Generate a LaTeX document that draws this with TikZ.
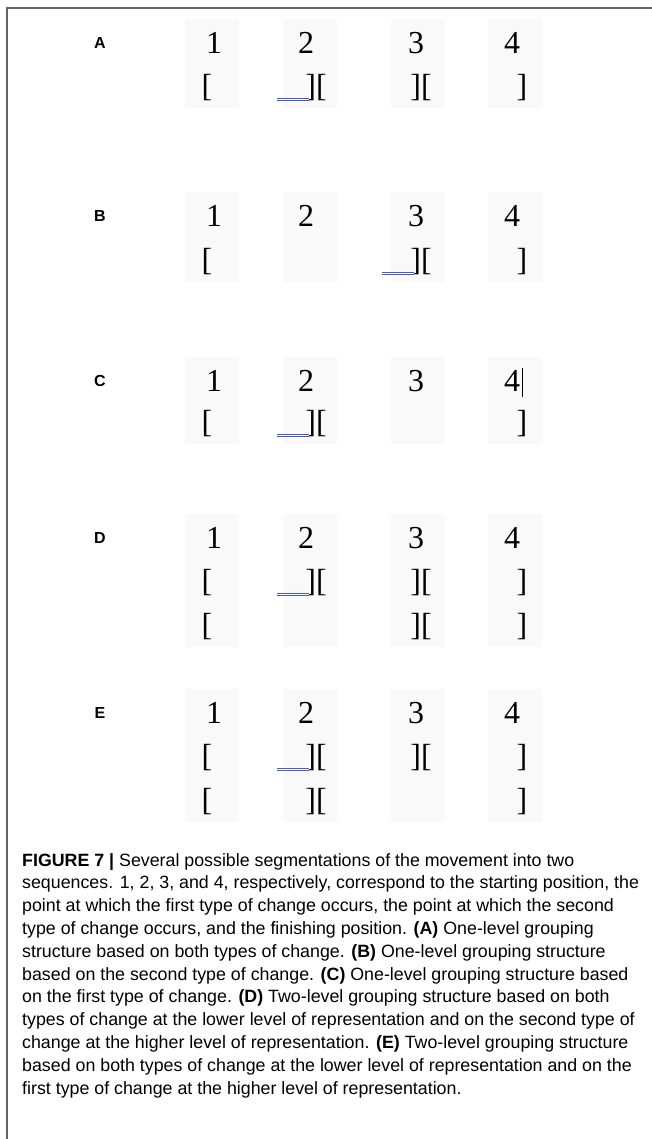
\documentclass[tikz,border=0pt]{standalone}
\usepackage{fontspec}
\setmainfont{Liberation Sans}
\newfontfamily\numfont{Liberation Serif}
\usetikzlibrary{positioning,calc}
\definecolor{ulblue}{RGB}{70,90,200}
\definecolor{framegray}{RGB}{100,100,100}
\definecolor{patchgray}{RGB}{249,249,249}
\tikzset{
  lbl/.style={font=\fontsize{16}{16}\selectfont\bfseries, inner sep=0pt},
  num/.style={font=\numfont\fontsize{32}{32}\selectfont, inner sep=0pt},
  brk/.style={font=\numfont\fontsize{32}{32}\selectfont, inner sep=0pt},
  ul/.style={draw=ulblue, double, double distance=1.1pt, line width=0.8pt},
  patch/.style={fill=patchgray, draw=none}
}
\begin{document}
\begin{tikzpicture}[x=1pt,y=-1pt]
    \useasboundingbox (0,0) rectangle (652,1139);
    % light screenshot patches behind the columns
    \foreach \top/\bot in {43/88, 216/262, 381/424, 538/627, 713/802}
        \foreach \x in {212,310,418,515}
            \fill[patch] (\x-27,\top-24) rectangle (\x+27,\bot+20);
    % frame
    \draw[framegray, line width=1.4pt] (7,1139) -- (7,8) -- (652,8);
    % A
    \node[lbl] (labA) at (100,43) {A};
    \foreach \d/\x in {1/214,2/306,3/416,4/512}
        \node[num] (A\d) at (\x,43) {\d};
    \node[brk] (Ab1) at (207,88) {[};
    \node[brk] (Ab2) at (316,88) {][};
    \node[brk] (Ab3) at (421,88) {][};
    \node[brk] (Ab4) at (522,88) {]};
    \draw[ul] ([xshift=-28pt,yshift=2pt]Ab2.south west) -- ([xshift=4pt,yshift=2pt]Ab2.south west);
    % B
    \node[lbl] (labB) at (100,216) {B};
    \foreach \d/\x in {1/214,2/306,3/416,4/512}
        \node[num] (B\d) at (\x,216) {\d};
    \node[brk] (Bb1) at (207,262) {[};
    \node[brk] (Bb3) at (421,262) {][};
    \node[brk] (Bb4) at (522,262) {]};
    \draw[ul] ([xshift=-28pt,yshift=2pt]Bb3.south west) -- ([xshift=4pt,yshift=2pt]Bb3.south west);
    % C
    \node[lbl] (labC) at (100,381) {C};
    \foreach \d/\x in {1/214,2/306,3/416,4/512}
        \node[num] (C\d) at (\x,381) {\d};
    \draw[line width=0.8pt] ([xshift=2pt,yshift=2pt]C4.north east) -- ([xshift=2pt,yshift=-5pt]C4.south east);
    \node[brk] (Cb1) at (207,424) {[};
    \node[brk] (Cb2) at (316,424) {][};
    \node[brk] (Cb4) at (522,424) {]};
    \draw[ul] ([xshift=-28pt,yshift=2pt]Cb2.south west) -- ([xshift=4pt,yshift=2pt]Cb2.south west);
    % D
    \node[lbl] (labD) at (100,538) {D};
    \foreach \d/\x in {1/214,2/306,3/416,4/512}
        \node[num] (D\d) at (\x,538) {\d};
    \node[brk] (Db1) at (207,583) {[};
    \node[brk] (Db2) at (316,583) {][};
    \node[brk] (Db3) at (421,583) {][};
    \node[brk] (Db4) at (522,583) {]};
    \draw[ul] ([xshift=-28pt,yshift=2pt]Db2.south west) -- ([xshift=4pt,yshift=2pt]Db2.south west);
    \node[brk] (Dc1) at (207,627) {[};
    \node[brk] (Dc3) at (421,627) {][};
    \node[brk] (Dc4) at (522,627) {]};
    % E
    \node[lbl] (labE) at (100,713) {E};
    \foreach \d/\x in {1/214,2/306,3/416,4/512}
        \node[num] (E\d) at (\x,713) {\d};
    \node[brk] (Eb1) at (207,758) {[};
    \node[brk] (Eb2) at (316,758) {][};
    \node[brk] (Eb3) at (421,758) {][};
    \node[brk] (Eb4) at (522,758) {]};
    \draw[ul] ([xshift=-28pt,yshift=2pt]Eb2.south west) -- ([xshift=4pt,yshift=2pt]Eb2.south west);
    \node[brk] (Ec1) at (207,802) {[};
    \node[brk] (Ec2) at (316,802) {][};
    \node[brk] (Ec4) at (522,802) {]};
    % caption
    \node[anchor=north west, align=left, inner sep=0pt, font=\fontsize{17.8}{22.8}\selectfont] (cap) at (22,853) {%
        \textbf{FIGURE 7 |} Several possible segmentations of the movement into two\\
        sequences. 1, 2, 3, and 4, respectively, correspond to the starting position, the\\
        point at which the first type of change occurs, the point at which the second\\
        type of change occurs, and the finishing position. \textbf{(A)} One-level grouping\\
        structure based on both types of change. \textbf{(B)} One-level grouping structure\\
        based on the second type of change. \textbf{(C)} One-level grouping structure based\\
        on the first type of change. \textbf{(D)} Two-level grouping structure based on both\\
        types of change at the lower level of representation and on the second type of\\
        change at the higher level of representation. \textbf{(E)} Two-level grouping structure\\
        based on both types of change at the lower level of representation and on the\\
        first type of change at the higher level of representation.};
\end{tikzpicture}
\end{document}
